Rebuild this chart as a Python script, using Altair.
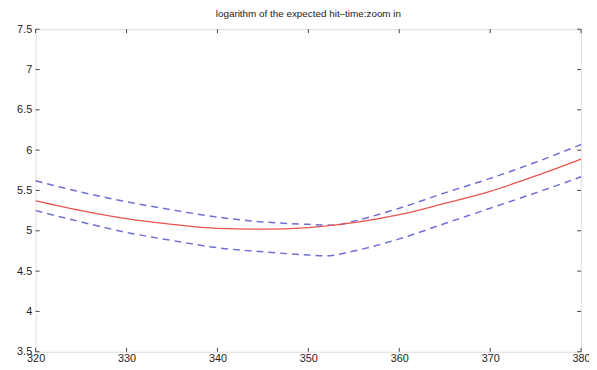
import altair as alt
import pandas as pd

# x positions
x_mean = [320, 325, 330, 335, 340, 345, 350, 355, 360, 365, 370, 375, 380]
y_mean = [5.37, 5.25, 5.15, 5.08, 5.03, 5.02, 5.04, 5.10, 5.20, 5.34, 5.49, 5.68, 5.89]

x_upper = [320, 325, 330, 335, 340, 345, 350, 353, 355, 360, 365, 370, 375, 380]
y_upper = [5.62, 5.48, 5.36, 5.26, 5.17, 5.11, 5.08, 5.07, 5.12, 5.28, 5.47, 5.65, 5.85, 6.07]

x_lower = [320, 325, 330, 335, 340, 345, 350, 352, 355, 360, 365, 370, 375, 380]
y_lower = [5.25, 5.11, 4.98, 4.88, 4.79, 4.74, 4.70, 4.69, 4.75, 4.90, 5.09, 5.28, 5.47, 5.67]

x_ticks = [320, 330, 340, 350, 360, 370, 380]
y_ticks = [3.5, 4, 4.5, 5, 5.5, 6, 6.5, 7, 7.5]

title = "logarithm of the expected hit\u2013time:zoom in"

W, H = 553, 327
TL = 4

mean_df = pd.DataFrame({"x": x_mean, "y": y_mean})
band_df = pd.concat([
    pd.DataFrame({"x": x_upper, "y": y_upper, "s": "upper"}),
    pd.DataFrame({"x": x_lower, "y": y_lower, "s": "lower"}),
])
xt_df = pd.DataFrame({"t": x_ticks})
yt_df = pd.DataFrame({"t": y_ticks})

xs = alt.Scale(domain=[320, 380], nice=False, zero=False)
ys = alt.Scale(domain=[3.5, 7.5], nice=False, zero=False)

font = "Liberation Sans"

xax = alt.Axis(values=x_ticks, domain=False, ticks=False, grid=False, title=None, format="d",
               labelFont=font, labelFontSize=11, labelColor="#222", labelPadding=1,
               labelFlush=False, labelOverlap=False)
yax = alt.Axis(values=y_ticks, domain=False, ticks=False, grid=False, title=None, format="~g",
               labelFont=font, labelFontSize=11, labelColor="#222", labelPadding=4,
               labelFlush=False, labelOverlap=False)

mean_line = alt.Chart(mean_df).mark_line(color="#e8544e", strokeWidth=1.3, interpolate="monotone").encode(
    x=alt.X("x:Q", scale=xs, axis=xax),
    y=alt.Y("y:Q", scale=ys, axis=yax),
)

band_lines = alt.Chart(band_df).mark_line(color="#6f6fd6", strokeWidth=1.5, strokeDash=[7, 5],
                                          interpolate="monotone").encode(
    x=alt.X("x:Q", scale=xs),
    y=alt.Y("y:Q", scale=ys),
    detail="s:N",
)

tick_color = "#444"
xt_bottom = alt.Chart(xt_df).mark_rule(color=tick_color, strokeWidth=1).encode(
    x=alt.X("t:Q", scale=xs), y=alt.value(H), y2=alt.value(H - TL))
xt_top = alt.Chart(xt_df).mark_rule(color=tick_color, strokeWidth=1).encode(
    x=alt.X("t:Q", scale=xs), y=alt.value(0), y2=alt.value(TL))
yt_left = alt.Chart(yt_df).mark_rule(color=tick_color, strokeWidth=1).encode(
    y=alt.Y("t:Q", scale=ys), x=alt.value(0), x2=alt.value(TL))
yt_right = alt.Chart(yt_df).mark_rule(color=tick_color, strokeWidth=1).encode(
    y=alt.Y("t:Q", scale=ys), x=alt.value(W), x2=alt.value(W - TL))

chart = alt.layer(band_lines, mean_line, xt_bottom, xt_top, yt_left, yt_right).properties(
    width=W, height=H,
    title=alt.TitleParams(title, font=font, fontSize=10, fontWeight="normal", color="#222",
                          anchor="middle", offset=4),
    autosize=alt.AutoSizeParams(type="none"),
    padding={"left": 28, "top": 19, "right": 8, "bottom": 16},
).configure_view(stroke="#555", strokeWidth=1.2).configure(background="white")

chart.save("out.html", embed_options={"renderer": "svg", "actions": False})
